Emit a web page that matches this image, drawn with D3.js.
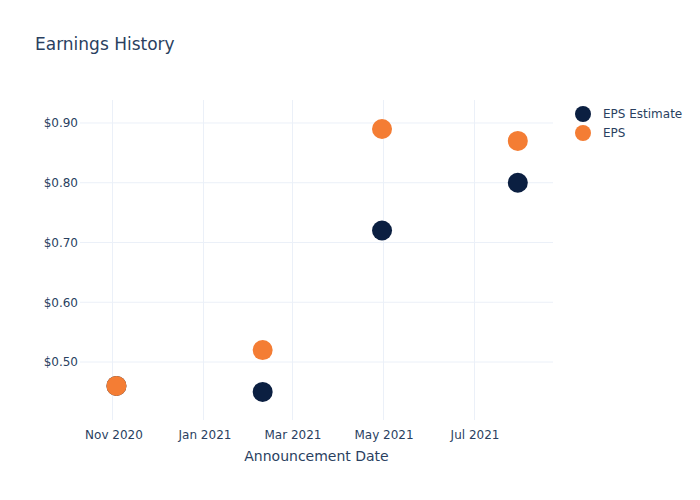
<!DOCTYPE html>
<html>
<head>
<meta charset="utf-8">
<script src="https://cdn.jsdelivr.net/npm/d3@7"></script>
<style>
  body { margin: 0; background: #fff; }
  svg { font-family: "DejaVu Sans", sans-serif; }
</style>
</head>
<body>
<svg id="chart" width="700" height="500"></svg>
<script>
const dates = ["2020-11-03", "2021-02-09", "2021-04-30", "2021-07-30"];
const epsEstimate = [0.46, 0.45, 0.72, 0.80];
const eps = [0.46, 0.52, 0.89, 0.87];
const yTicks = [0.5, 0.6, 0.7, 0.8, 0.9];
const xTicks = ["2020-11-01", "2021-01-01", "2021-03-01", "2021-05-01", "2021-07-01"];
const seriesNames = ["EPS Estimate", "EPS"];
const seriesColors = ["#0b1f41", "#f47d34"];

(function () {
const parse = d3.utcParse("%Y-%m-%d");
const svg = d3.select("#chart");
const pLeft = 80, pRight = 553, pTop = 100, pBottom = 420;

const x = d3.scaleUtc()
  .domain([new Date(Date.UTC(2020, 9, 9, 14)), new Date(Date.UTC(2021, 7, 22, 14))])
  .range([pLeft, pRight]);
const y = d3.scaleLinear()
  .domain([0.4013, 0.9368])
  .range([pBottom + 1, pTop + 1]);

const textColor = "#2a3f5f";
const gridColor = "#ebf0f8";

// grid
svg.append("g").selectAll("line").data(xTicks).join("line")
  .attr("x1", d => Math.round(x(parse(d))) - 0.5).attr("x2", d => Math.round(x(parse(d))) - 0.5)
  .attr("y1", pTop).attr("y2", pBottom)
  .attr("stroke", gridColor).attr("stroke-width", 1);
svg.append("g").selectAll("line").data(yTicks).join("line")
  .attr("x1", pLeft).attr("x2", pRight)
  .attr("y1", d => y(d)).attr("y2", d => y(d))
  .attr("stroke", gridColor).attr("stroke-width", 1);

// axes
const xAxis = d3.axisBottom(x)
  .tickValues(xTicks.map(parse))
  .tickFormat(d3.utcFormat("%b %Y"))
  .tickSize(0).tickPadding(10);
const gx = svg.append("g").attr("transform", `translate(0,${pBottom})`).call(xAxis);
gx.select(".domain").remove();
gx.selectAll("text").attr("fill", textColor).style("font-size", "12px").style("font-family", "DejaVu Sans");

const yAxis = d3.axisLeft(y)
  .tickValues(yTicks)
  .tickFormat(d => "$" + d3.format(".2f")(d))
  .tickSize(0).tickPadding(2);
const gy = svg.append("g").attr("transform", `translate(${pLeft},0)`).call(yAxis);
gy.select(".domain").remove();
gy.selectAll("text").attr("fill", textColor).style("font-size", "12px").style("font-family", "DejaVu Sans");

// points
const series = [epsEstimate, eps];
series.forEach((vals, i) => {
  svg.append("g").selectAll("circle").data(vals).join("circle")
    .attr("cx", (d, j) => x(parse(dates[j])))
    .attr("cy", d => y(d))
    .attr("r", 10)
    .attr("fill", seriesColors[i]);
});

// title
svg.append("text").attr("x", 35).attr("y", 50)
  .attr("fill", textColor).style("font-size", "17px")
  .text("Earnings History");

// x axis title
svg.append("text").attr("x", (pLeft + pRight) / 2).attr("y", 461)
  .attr("text-anchor", "middle")
  .attr("fill", textColor).style("font-size", "14px")
  .text("Announcement Date");

// legend
const lg = svg.append("g");
seriesNames.forEach((name, i) => {
  const ly = 114 + i * 19;
  lg.append("circle").attr("cx", 583).attr("cy", ly).attr("r", 8).attr("fill", seriesColors[i]);
  lg.append("text").attr("x", 603).attr("y", ly + 4)
    .attr("fill", textColor).style("font-size", "12px").text(name);
});
})();
</script>
</body>
</html>
